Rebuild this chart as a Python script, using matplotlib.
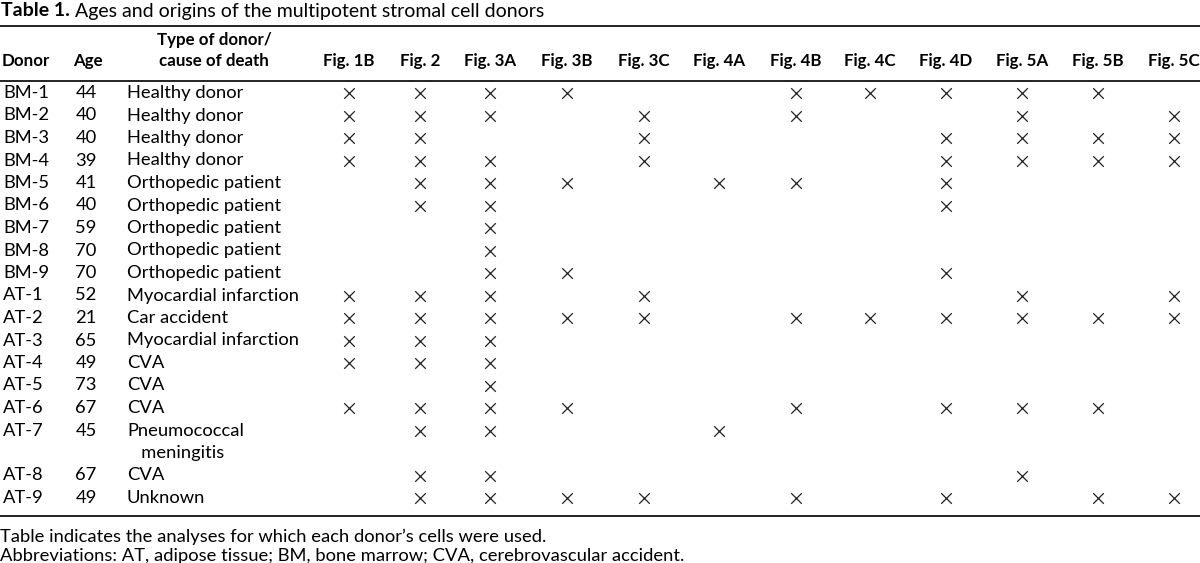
import matplotlib
matplotlib.use("Agg")
import matplotlib.pyplot as plt

plt.rcParams['font.family'] = ['Lato', 'DejaVu Sans']

# table data
donors = ['BM-1', 'BM-2', 'BM-3', 'BM-4', 'BM-5', 'BM-6', 'BM-7', 'BM-8', 'BM-9',
          'AT-1', 'AT-2', 'AT-3', 'AT-4', 'AT-5', 'AT-6', 'AT-7', 'AT-8', 'AT-9']
ages = [44, 40, 40, 39, 41, 40, 59, 70, 70, 52, 21, 65, 49, 73, 67, 45, 67, 49]
causes = ['Healthy donor', 'Healthy donor', 'Healthy donor', 'Healthy donor',
          'Orthopedic patient', 'Orthopedic patient', 'Orthopedic patient',
          'Orthopedic patient', 'Orthopedic patient',
          'Myocardial infarction', 'Car accident', 'Myocardial infarction',
          'CVA', 'CVA', 'CVA', 'Pneumococcal\n   meningitis', 'CVA', 'Unknown']
figs = ['Fig. 1B', 'Fig. 2', 'Fig. 3A', 'Fig. 3B', 'Fig. 3C', 'Fig. 4A',
        'Fig. 4B', 'Fig. 4C', 'Fig. 4D', 'Fig. 5A', 'Fig. 5B', 'Fig. 5C']
used = {
    'BM-1': ['1B', '2', '3A', '3B', '4B', '4C', '4D', '5A', '5B'],
    'BM-2': ['1B', '2', '3A', '3C', '4B', '5A', '5C'],
    'BM-3': ['1B', '2', '3C', '4D', '5A', '5B', '5C'],
    'BM-4': ['1B', '2', '3A', '3C', '4D', '5A', '5B', '5C'],
    'BM-5': ['2', '3A', '3B', '4A', '4B', '4D'],
    'BM-6': ['2', '3A', '4D'],
    'BM-7': ['3A'],
    'BM-8': ['3A'],
    'BM-9': ['3A', '3B', '4D'],
    'AT-1': ['1B', '2', '3A', '3C', '5A', '5C'],
    'AT-2': ['1B', '2', '3A', '3B', '3C', '4B', '4C', '4D', '5A', '5B', '5C'],
    'AT-3': ['1B', '2', '3A'],
    'AT-4': ['1B', '2', '3A'],
    'AT-5': ['3A'],
    'AT-6': ['1B', '2', '3A', '3B', '4B', '4D', '5A', '5B'],
    'AT-7': ['2', '3A', '4A'],
    'AT-8': ['2', '3A', '5A'],
    'AT-9': ['2', '3A', '3B', '3C', '4B', '4D', '5B', '5C'],
}
title_bold = 'Table 1.'
title_rest = ' Ages and origins of the multipotent stromal cell donors'
notes = ["Table indicates the analyses for which each donor\u2019s cells were used.",
         "Abbreviations: AT, adipose tissue; BM, bone marrow; CVA, cerebrovascular accident."]

W, H = 1200, 563
fig = plt.figure(figsize=(W / 100, H / 100), dpi=100)
ax = fig.add_axes([0, 0, 1, 1])
ax.set_xlim(0, W)
ax.set_ylim(H, 0)
ax.axis('off')

fs = 13.2
hfs = 12.2
fig_x = [349, 420, 490, 567, 644, 719, 796, 870, 946, 1022, 1098, 1174]
y0 = 93
step = 22.5

# title: bold part then regular part right after it
t = ax.text(1, 11, title_bold, fontsize=14, fontweight='bold', va='center')
fig.canvas.draw()
bb = t.get_window_extent()
ax.text(bb.x1, 11, title_rest, fontsize=14, va='center')

# rules
for yy in [26, 81, 516]:
    ax.plot([0, W], [yy, yy], color='#222222', lw=1.4, solid_capstyle='butt')

# header
ax.text(2, 61, 'Donor', fontsize=hfs, fontweight='bold', va='center')
ax.text(88, 61, 'Age', fontsize=hfs, fontweight='bold', va='center', ha='center')
ax.text(214, 40, 'Type of donor/', fontsize=hfs, fontweight='bold', va='center', ha='center')
ax.text(214, 61, 'cause of death', fontsize=hfs, fontweight='bold', va='center', ha='center')
for x, f in zip(fig_x, figs):
    ax.text(x, 61, f, fontsize=hfs, fontweight='bold', va='center', ha='center')

# rows
line = 0
for d, a, c in zip(donors, ages, causes):
    y = y0 + line * step
    ax.text(3, y, d, fontsize=fs, va='center')
    ax.text(86, y, str(a), fontsize=fs, va='center', ha='center')
    parts = c.split('\n')
    for k, p in enumerate(parts):
        ax.text(127, y + k * step, p, fontsize=fs, va='center')
    xs = [fig_x[figs.index('Fig. ' + u)] for u in used[d]]
    ax.scatter(xs, [y] * len(xs), marker='x', s=58, linewidths=0.9, color='#222222')
    line += len(parts)

# footnotes
ax.text(0, 537, notes[0], fontsize=fs, va='center')
ax.text(0, 556, notes[1], fontsize=fs, va='center')

fig.savefig('out.png', dpi=100)
